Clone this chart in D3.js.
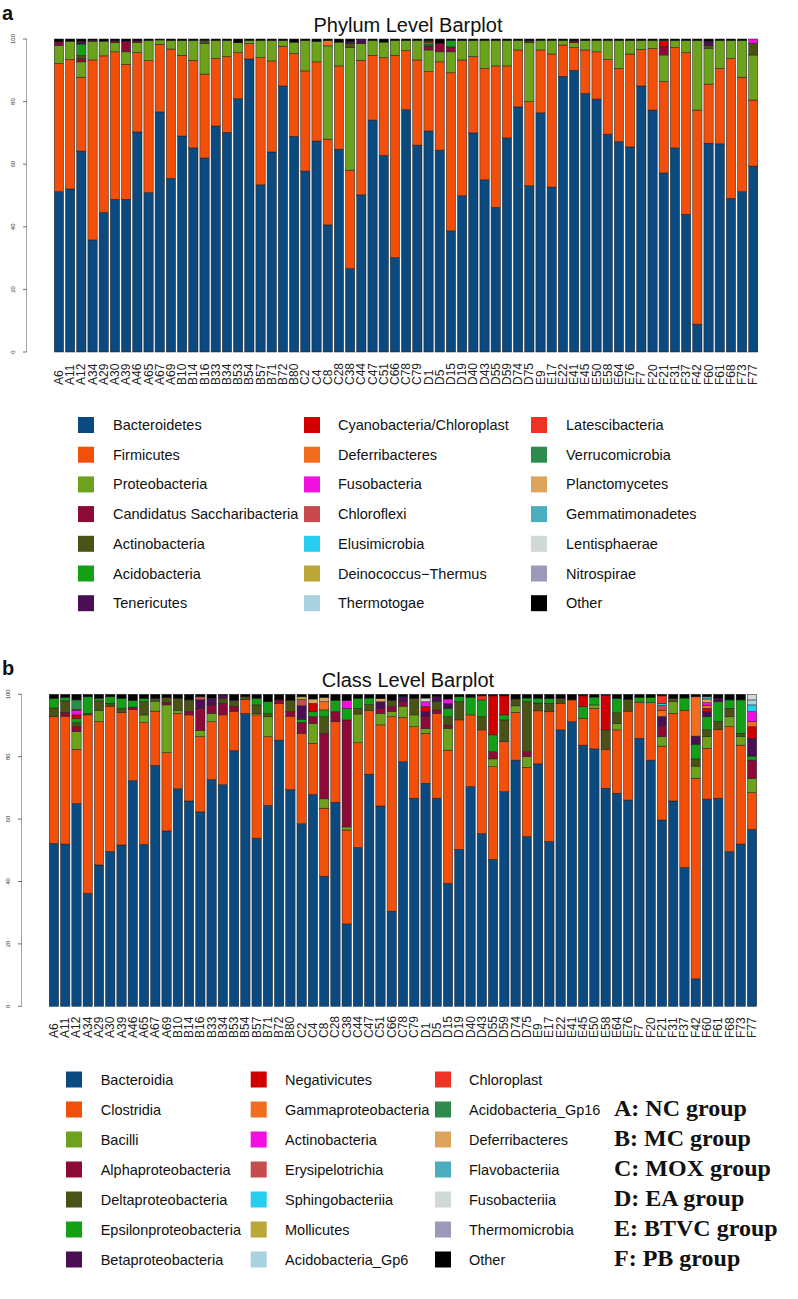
<!DOCTYPE html>
<html><head><meta charset="utf-8">
<script src="https://cdn.jsdelivr.net/npm/d3@7"></script>
<style>body{margin:0;background:#fff}</style>
</head><body>
<svg id="chart" width="798" height="1299" xmlns="http://www.w3.org/2000/svg"></svg>
<script>
const samples = ["A6","A11","A12","A34","A29","A30","A39","A46","A65","A67","A69","B10","B14","B16","B33","B34","B53","B54","B57","B71","B72","B80","C2","C4","C8","C28","C38","C44","C47","C51","C66","C78","C79","D1","D5","D15","D19","D40","D43","D55","D59","D74","D75","E9","E17","E22","E41","E45","E50","E58","E64","E76","F7","F20","F21","F31","F37","F42","F60","F61","F68","F73","F77"];
const tickValues = [0,20,40,60,80,100];
const palette = ["#0b4a80","#f2500a","#6ca21c","#8c0a38","#4a5216","#14a016","#4a0e55","#d00000","#f26e1e","#f010e0","#c84a4e","#26cdee","#bca636","#a9d3df","#ee3322","#2c8c4e","#dda45e","#4aaebe","#d0d8d8","#9a9abb","#000000"];
const groupLabels = ["A: NC group","B: MC group","C: MOX group","D: EA group","E: BTVC group","F: PB group"];

// ---------- Phylum level ----------
const phylumNames = ["Bacteroidetes","Firmicutes","Proteobacteria","Candidatus Saccharibacteria","Actinobacteria","Acidobacteria","Tenericutes","Cyanobacteria/Chloroplast","Deferribacteres","Fusobacteria","Chloroflexi","Elusimicrobia","Deinococcus\u2212Thermus","Thermotogae","Latescibacteria","Verrucomicrobia","Planctomycetes","Gemmatimonadetes","Lentisphaerae","Nitrospirae","Other"];
const pBacteroidetes = [51.2,52.1,64.2,35.8,44.6,48.8,48.8,70.3,50.9,76.7,55.5, 69.0,65.2,62.0,72.2,70.2,80.9,93.6,53.4,63.9,85.0,68.9, 57.8,67.4,40.6,64.8,26.6,50.2,74.1,62.8,30.2,77.4,66.1, 70.6,64.5,38.7,49.9,70.0,55.0,46.2,68.4,78.3,53.1, 76.4,52.7,88.1,90.0,82.6,80.8,69.6,67.2,65.5, 85.0,77.3,57.2,65.2,44.0,8.9,66.7,66.5,49.1,51.2,59.4];
const pFirmicutes = [41.0,41.4,23.6,57.5,50.0,47.1,43.1,25.4,42.2,21.6,41.3, 25.8,28.0,26.8,21.6,24.2,14.8,5.0,40.7,29.1,12.7,26.5, 32.0,25.3,27.4,26.6,31.5,43.0,20.7,31.2,64.6,18.9,27.2, 19.0,28.2,50.5,43.4,24.4,35.6,45.2,23.0,18.2,26.9, 20.1,42.5,10.0,7.3,13.9,15.1,23.9,23.4,29.7, 11.7,19.7,29.2,32.1,51.7,68.4,18.9,24.1,44.7,36.6,21.1];
const pProteobacteria = [5.7,5.8,4.9,5.9,4.7,2.9,4.0,3.2,6.4,1.4,2.7, 4.7,6.3,9.8,5.7,5.1,3.1,0.9,5.4,6.5,1.8,3.6, 9.7,6.5,29.8,7.6,39.1,5.3,4.7,5.0,4.7,3.2,6.2, 6.9,3.2,6.7,6.2,5.1,8.9,8.1,8.1,3.0,18.8, 3.0,4.3,1.4,1.5,3.0,3.6,6.0,8.9,4.3, 2.8,2.5,8.5,2.2,3.8,22.2,11.4,8.9,5.7,11.7,14.4];
const pCandidatus = [1.2,0,1.0,0.4,0,0.6,3.4,0.5,0,0,0, 0,0,0,0,0,0,0,0,0,0,0, 0,0,0,0,0,0,0,0,0,0,0, 1.2,2.7,1.6,0,0,0,0,0,0,0, 0,0,0,0.6,0,0,0,0,0, 0,0,2.6,0,0,0,0,0,0,0,0];
const pActinobacteria = [0,0,1.0,0,0,0,0,0,0,0,0, 0,0,0.9,0,0,0,0,0,0,0,0, 0,0,0,0,1.4,0,0,0,0,0,0, 0.5,0,0,0,0,0,0,0,0,0.6, 0,0,0,0,0,0,0,0,0, 0,0,0,0,0,0,1.0,0,0,0,3.7];
const pAcidobacteria = [0,0,3.7,0,0,0,0,0,0,0,0, 0,0,0,0,0,0,0,0,0,0,0, 0,0,0,0,0,0,0,0,0,0,0, 0.7,0,2.0,0,0,0,0,0,0,0, 0,0,0,0,0,0,0,0,0, 0,0,0,0,0,0,0,0,0,0,0];
const pTenericutes = [0,0,0.8,0,0,0,0,0,0,0,0, 0,0,0,0,0,0,0,0,0,0,0, 0,0,0,0,0.6,1.3,0,0,0,0,0, 0,0,0,0,0,0,0,0,0,0, 0,0,0,0,0,0,0,0,0, 0,0,0,0,0,0,1.3,0,0,0,0];
const pCyanobacteria = [0,0,0,0,0,0,0,0,0,0,0, 0,0,0,0,0,0,0,0,0,0,0, 0,0,0,0,0,0,0,0,0,0,0, 0.5,0,0,0,0,0,0,0,0,0, 0,0,0,0,0,0,0,0,0, 0,0,2.0,0,0,0,0,0,0,0,0];
const pDeferribacteres = [0,0,0,0,0,0,0,0,0,0,0, 0,0,0,0,0,0,0,0,0,0,0, 0,0,1.7,0,0,0,0,0,0,0,0, 0,0,0,0,0,0,0,0,0,0, 0,0,0,0,0,0,0,0,0, 0,0,0,0,0,0,0,0,0,0,0];
const pFusobacteria = [0,0,0,0,0,0,0,0,0,0,0, 0,0,0,0,0,0,0,0,0,0,0, 0,0,0,0,0,0,0,0,0,0,0, 0,0,0,0,0,0,0,0,0,0, 0,0,0,0,0,0,0,0,0, 0,0,0,0,0,0,0,0,0,0,1.4];
const pOther = [0.9,0.7,0.8,0.4,0.7,0.6,0.7,0.6,0.5,0.3,0.5, 0.5,0.5,0.5,0.5,0.5,1.2,0.5,0.5,0.5,0.5,1.0, 0.5,0.8,0.5,1.0,0.8,0.2,0.5,1.0,0.5,0.5,0.5, 0.6,1.4,0.5,0.5,0.5,0.5,0.5,0.5,0.5,0.6, 0.5,0.5,0.5,0.6,0.5,0.5,0.5,0.5,0.5, 0.5,0.5,0.5,0.5,0.5,0.5,0.7,0.5,0.5,0.5,0.0];

// ---------- Class level ----------
const classNames = ["Bacteroidia","Clostridia","Bacilli","Alphaproteobacteria","Deltaproteobacteria","Epsilonproteobacteria","Betaproteobacteria","Negativicutes","Gammaproteobacteria","Actinobacteria","Erysipelotrichia","Sphingobacteriia","Mollicutes","Acidobacteria_Gp6","Chloroplast","Acidobacteria_Gp16","Deferribacteres","Flavobacteriia","Fusobacteriia","Thermomicrobia","Other"];
const cBacteroidia = [52.2,52.0,65.0,36.2,45.3,49.6,51.7,72.3,51.9,77.2,56.2, 69.7,65.8,62.3,72.6,71.0,81.9,93.8,53.9,64.4,85.3,69.4, 58.5,67.9,41.7,65.4,26.4,50.9,74.4,64.2,30.5,78.4,66.7, 71.5,66.7,39.4,50.3,70.4,55.4,47.1,68.8,78.9,54.4, 77.7,52.8,88.6,91.2,83.7,82.5,69.9,68.3,66.1, 85.9,78.9,59.7,65.8,44.5,8.8,66.4,66.7,49.6,52.0,56.7];
const cClostridia = [40.6,41.0,17.4,57.2,45.9,46.6,42.4,22.8,39.0,17.4,25.1, 24.2,27.6,24.1,18.6,22.4,12.7,4.6,39.5,22.0,11.8,23.6, 29.0,16.4,21.8,25.8,30.1,33.6,20.4,26.0,62.3,14.2,22.9, 16.0,27.2,42.7,41.5,23.0,33.2,29.7,16.0,15.3,22.2, 17.0,41.6,8.5,7.0,8.6,13.0,12.5,20.3,28.5, 11.6,18.4,23.7,28.1,50.4,64.3,16.3,22.1,40.0,31.7,11.8];
const cBacilli = [0,0,5.6,0,3.7,0,0,0,2.5,3.2,15.3, 1.0,0,2.0,2.7,0,0,0,0.5,6.4,0,0, 0,6.4,3.0,0,1.0,9.2,0,3.7,1.7,3.6,3.8, 1.5,0,7.0,0,0,0,2.5,0,2.1,3.4, 0,0,0,0,0,1.1,0,2.0,0, 0,0,3.0,3.7,0,3.9,3.7,0,3.2,2.7,4.6];
const cAlpha = [0,1.2,1.6,0,0,0,0,0.8,0,0,0.8, 0,1.0,7.1,2.7,3.7,1.5,0,0,0,1.1,1.4, 3.5,2.1,21.0,3.2,34.3,0,0,1.6,1.5,1.5,0, 4.0,1.1,1.0,0,0,0,2.3,0,0,1.6, 0,0,0,0,0,0,0,0,0, 0,0,3.5,0,0,0,0,0,0,0,5.8];
const cDelta = [2.8,3.7,1.3,0.5,3.0,0.9,1.4,0,4.2,0.8,1.5, 3.8,3.8,0,0,1.6,2.0,0.8,2.7,1.0,0,3.7, 0,0,5.3,0,0,1.8,1.9,0,2.1,0,5.3, 0,2.7,2.7,5.8,0,4.2,0,7.0,2.2,16.0, 2.5,2.7,1.5,0,0,0,6.2,3.5,3.8, 0,0,0,1.0,0,2.3,2.2,2.4,2.7,1.1,0];
const cEpsilon = [3.1,1.1,1.4,5.3,0.8,2.1,3.2,2.1,1.1,0,0, 0,0,0,0,0,0,0,2.1,3.8,0,0, 1.0,1.6,2.2,3.7,3.7,3.2,2.1,0,0,0,0, 0,0,2.7,1.6,5.6,5.4,5.4,1.6,0,1.2, 1.5,1.5,0,0,3.7,2.5,0,4.5,0, 1.5,1.7,0,0,3.9,4.7,4.2,6.4,2.7,10.7,1.3];
const cBeta = [0,0,0,0,0,0,0,0,0,0,0, 0,0,2.7,2.1,1.0,0,0,0,0,0,0, 4.3,0,0,0,0,0,0,2.1,0,1.5,0, 1.5,1.5,1.5,0,0,0,0,0,0,0, 0,0,0,0,0,0,0,0,0, 0,0,3.0,0,0,2.6,1.7,1.2,0,0,5.7];
const cNegativicutes = [0,0,1.1,0,0,0,0,0,0,0,0, 0,0,0,0,0,0,0,0,0,0,0, 0,2.7,0,0,0,0,0,0,0,0,0, 1.5,0,0,0,0,0,12.5,6.1,0,0, 0,0,0,0,3.5,0,11.0,0,0, 0,0,0,0,0,0,1.0,0,0,0,3.7];
const cGamma = [0,0,0,0,0,0,0,0,0,0,0, 0,0,0,0,0,0,0,0,0,0,0, 0,0,2.6,0,0,0,0,0,0,0,0, 0,0,0,0,0,0,0,0,0,0, 0,0,0,0,0,0,0,0,0, 0,0,2.0,0,0,12.6,1.0,0,0,0,1.6];
const cActino = [0,0,1.4,0,0,0,0,0,0,0,0, 0,0,0,0,0,0,0,0,0,0,0, 0,0,0,0,2.5,0,0,0,0,0,0, 1.6,0,1.5,0,0,0,0,0,0,0, 0,0,0,0,0,0,0,0,0, 0,0,0,0,0,0,0.8,0,0,0,3.2];
const cErysipelotrichia = [0,0,0.4,0,0,0,0,0,0,0,0, 0,0,1.0,0,0,0,0,0,0,0,0, 2.0,0,0,0,0,0,0,0,0,0,0, 0,0,0,0,0,0,0,0,0,0, 0,0,0,0,0,0,0,0,0, 0,0,1.5,0,0,0,0,0,0,0,0];
const cSphingo = [0,0,0,0,0,0,0,0,0,0,0, 0,0,0,0,0,0,0,0,0,0,0, 0,0,0,0,0,0,0,0,0,0,0, 0,0,0,0,0,0,0,0,0,0, 0,0,0,0,0,0,0,0,0, 0,0,0.6,0,0,0,0,0,0,0,2.2];
const cMollicutes = [0,0,0,0,0,0,0,0,0,0,0, 0,0,0,0,0,0,0,0,0,0,0, 0.9,0,0,0,0,0,0,0,0,0,0, 0,0,0,0,0,0,0,0,0,0, 0,0,0,0,0,0,0,0,0, 0,0,0,0,0,0,0,0,0,0,0];
const cGp6 = [0,0,0,0,0,0,0,0,0,0,0, 0,0,0,0,0,0,0,0,0,0,0, 0,0,0,0,0,0,0,0,0,0,0, 0,0,0,0,0,0,0,0,0,0, 0,0,0,0,0,0,0,0,0, 0,0,0,0,0,0,0,0,0,0,1.6];
const cChloroplast = [0,0,0,0,0,0,0,0,0,0,0, 0,0,0,0,0,0,0,0,0,0,0, 0,0,0,0,0,0,0,0,0,0,0, 0,0,0,0,0,1.3,0,0,0,0, 0,0,0,0,0,0,0,0,0, 0,0,2.5,0,0,0,0,0,0,0,0];
const cGp16 = [0,0,3.0,0,0,0,0,0,0,0,0, 0,0,0,0,0,0,0,0,0,0,0, 0,0,0,0,0,0,0,0,0,0,0, 0,0,0,0,0,0,0,0,0,0, 0,0,0,0,0,0,0,0,0, 0,0,0,0,0,0,0,0,0,0,0];
const cDeferri = [0,0,0,0,0,0,0,0,0,0,0, 0,0,0,0,0,0,0,0,0,0,0, 0,1.4,1.4,0,0,0,0,1.0,0,0,0, 0,0,0,0,0,0,0,0,0,0, 0,0,0,0,0,0,0,0,0, 0,0,0,0,0,0,1.2,0,0,0,0];
const cFlavo = [0,0,0,0,0,0,0,0,0,0,0, 0,0,0,0,0,0,0,0,0,0,0, 0,0,0,0,0,0,0,0,0,0,0, 0,0,0,0,0,0,0,0,0,0, 0,0,0,0,0,0,0,0,0, 0,0,0,0,0,0,0.7,0,0,0,0];
const cFuso = [0,0,0,0,0,0,0,0,0,0,0, 0,0,0,0,0,0,0,0,0,0,0, 0,0,0,0,0,0,0,0,0,0,0, 1.2,0,0,0,0,0,0,0,0,0, 0,0,0,0,0,0,0,0,0, 0,0,0,0,0,0,0,0,0,0,1.8];
const cOther = [1.3,1.0,1.8,0.8,1.3,0.8,1.3,2.0,1.3,1.4,1.1, 1.3,1.8,0.8,1.3,0.3,1.9,0.8,1.3,2.4,1.8,1.9, 0.8,1.5,1.0,1.9,2.0,1.3,1.2,1.4,1.9,0.8,1.3, 1.2,0.8,1.5,0.8,1.0,0.5,0.5,0.5,1.5,1.2, 1.3,1.4,1.4,1.8,0.5,0.9,0.4,1.4,1.6, 1.0,1.0,0.5,1.4,1.2,0.8,0.8,1.2,1.8,1.8,0.0];

const phylumSeries = {
  "Bacteroidetes": pBacteroidetes, "Firmicutes": pFirmicutes, "Proteobacteria": pProteobacteria,
  "Candidatus Saccharibacteria": pCandidatus, "Actinobacteria": pActinobacteria, "Acidobacteria": pAcidobacteria,
  "Tenericutes": pTenericutes, "Cyanobacteria/Chloroplast": pCyanobacteria, "Deferribacteres": pDeferribacteres,
  "Fusobacteria": pFusobacteria, "Other": pOther
};
const classSeries = {
  "Bacteroidia": cBacteroidia, "Clostridia": cClostridia, "Bacilli": cBacilli, "Alphaproteobacteria": cAlpha,
  "Deltaproteobacteria": cDelta, "Epsilonproteobacteria": cEpsilon, "Betaproteobacteria": cBeta,
  "Negativicutes": cNegativicutes, "Gammaproteobacteria": cGamma, "Actinobacteria": cActino,
  "Erysipelotrichia": cErysipelotrichia, "Sphingobacteriia": cSphingo, "Mollicutes": cMollicutes,
  "Acidobacteria_Gp6": cGp6, "Chloroplast": cChloroplast, "Acidobacteria_Gp16": cGp16,
  "Deferribacteres": cDeferri, "Flavobacteriia": cFlavo, "Fusobacteriia": cFuso, "Other": cOther
};

const svg = d3.select("#chart");
const FONT = "'Liberation Sans', Arial, Helvetica, sans-serif";

function drawPanel(cfg) {
  const g = svg.append("g");
  const names = cfg.names;
  const rows = samples.map((s, i) => {
    const r = { sample: s };
    names.forEach(n => { r[n] = cfg.series[n] ? cfg.series[n][i] : 0; });
    return r;
  });
  const x = d3.scaleBand().domain(samples).range([cfg.x0, cfg.x1]).paddingInner(0.17).paddingOuter(0);
  const y = d3.scaleLinear().domain([0, 100]).range([cfg.yBottom, cfg.yTop]);
  const color = d3.scaleOrdinal().domain(names).range(palette);
  const stacked = d3.stack().keys(names)(rows);

  const clipId = "clip" + cfg.tag;
  g.append("clipPath").attr("id", clipId).append("rect")
    .attr("x", cfg.x0 - 2).attr("y", cfg.yTop - 2).attr("width", cfg.clipRight - cfg.x0 + 2).attr("height", cfg.yBottom - cfg.yTop + 4);

  const bars = g.append("g").attr("clip-path", `url(#${clipId})`);
  bars.selectAll("g.layer").data(stacked).join("g")
    .attr("class", "layer").attr("fill", d => color(d.key))
    .selectAll("rect").data(d => d.filter(v => v[1] - v[0] > 0)).join("rect")
    .attr("x", d => x(d.data.sample))
    .attr("width", x.bandwidth())
    .attr("y", d => y(d[1]))
    .attr("height", d => y(d[0]) - y(d[1]))
    .attr("stroke", "#1c1c1c").attr("stroke-width", 0.5);

  // y axis
  const ya = g.append("g");
  ya.append("line").attr("x1", cfg.axisX).attr("x2", cfg.axisX).attr("y1", y(0)).attr("y2", y(100))
    .attr("stroke", "#666").attr("stroke-width", 0.6);
  ya.selectAll("line.tick").data(tickValues).join("line").attr("class", "tick")
    .attr("x1", cfg.axisX - 3.5).attr("x2", cfg.axisX).attr("y1", d => y(d)).attr("y2", d => y(d))
    .attr("stroke", "#444").attr("stroke-width", 0.8);
  ya.selectAll("text").data(tickValues).join("text")
    .attr("transform", d => `translate(${cfg.axisX - 12},${y(d)}) rotate(-90)`)
    .attr("text-anchor", "middle").attr("font-family", FONT).attr("font-size", 6).attr("fill", "#333")
    .text(d => d);

  // x labels
  g.append("g").selectAll("text").data(samples).join("text")
    .attr("transform", d => `translate(${x(d) + x.bandwidth() / 2 + 4},${cfg.labelY}) rotate(-90)`)
    .attr("text-anchor", "start").attr("font-family", FONT).attr("font-size", 12).attr("fill", "#222")
    .text(d => d);

  // title and tag
  g.append("text").attr("x", 408).attr("y", cfg.titleY).attr("text-anchor", "middle")
    .attr("font-family", FONT).attr("font-size", 20).attr("fill", "#111").text(cfg.title);
  g.append("text").attr("x", 2).attr("y", cfg.tagY).attr("font-family", FONT).attr("font-weight", "bold")
    .attr("font-size", 20).attr("fill", "#111").text(cfg.tag);

  // legend (column-major, 7 rows)
  const lg = g.append("g");
  names.forEach((n, k) => {
    const col = Math.floor(k / 7), row = k % 7;
    const cy = cfg.legY0 + row * cfg.legDy;
    lg.append("rect").attr("x", cfg.legSqX[col]).attr("y", cy - 8).attr("width", 16).attr("height", 16)
      .attr("fill", color(n));
    lg.append("text").attr("x", cfg.legTxX[col]).attr("y", cy + 5).attr("font-family", FONT)
      .attr("font-size", 14.5).attr("fill", "#111").text(n);
  });
}

drawPanel({
  names: phylumNames, series: phylumSeries, tag: "a", title: "Phylum Level Barplot",
  x0: 54.3, x1: 758, clipRight: 758, yBottom: 352, yTop: 39, axisX: 26.5, labelY: 385,
  titleY: 31.5, tagY: 19.5,
  legY0: 425, legDy: 29.7, legSqX: [78, 304, 531], legTxX: [113, 338, 566]
});
drawPanel({
  names: classNames, series: classSeries, tag: "b", title: "Class Level Barplot",
  x0: 49.3, x1: 756.7, clipRight: 758, yBottom: 1006.3, yTop: 694.3, axisX: 21.5, labelY: 1038,
  titleY: 687, tagY: 675,
  legY0: 1079.5, legDy: 30, legSqX: [66, 250.7, 435], legTxX: [100.7, 285, 469]
});

svg.append("g").selectAll("text").data(groupLabels).join("text")
  .attr("x", 614).attr("y", (d, i) => 1116 + i * 30)
  .attr("font-family", "'Liberation Serif', 'Times New Roman', serif").attr("font-weight", "bold")
  .attr("font-size", 24).attr("fill", "#111").text(d => d);
</script>
</body></html>
